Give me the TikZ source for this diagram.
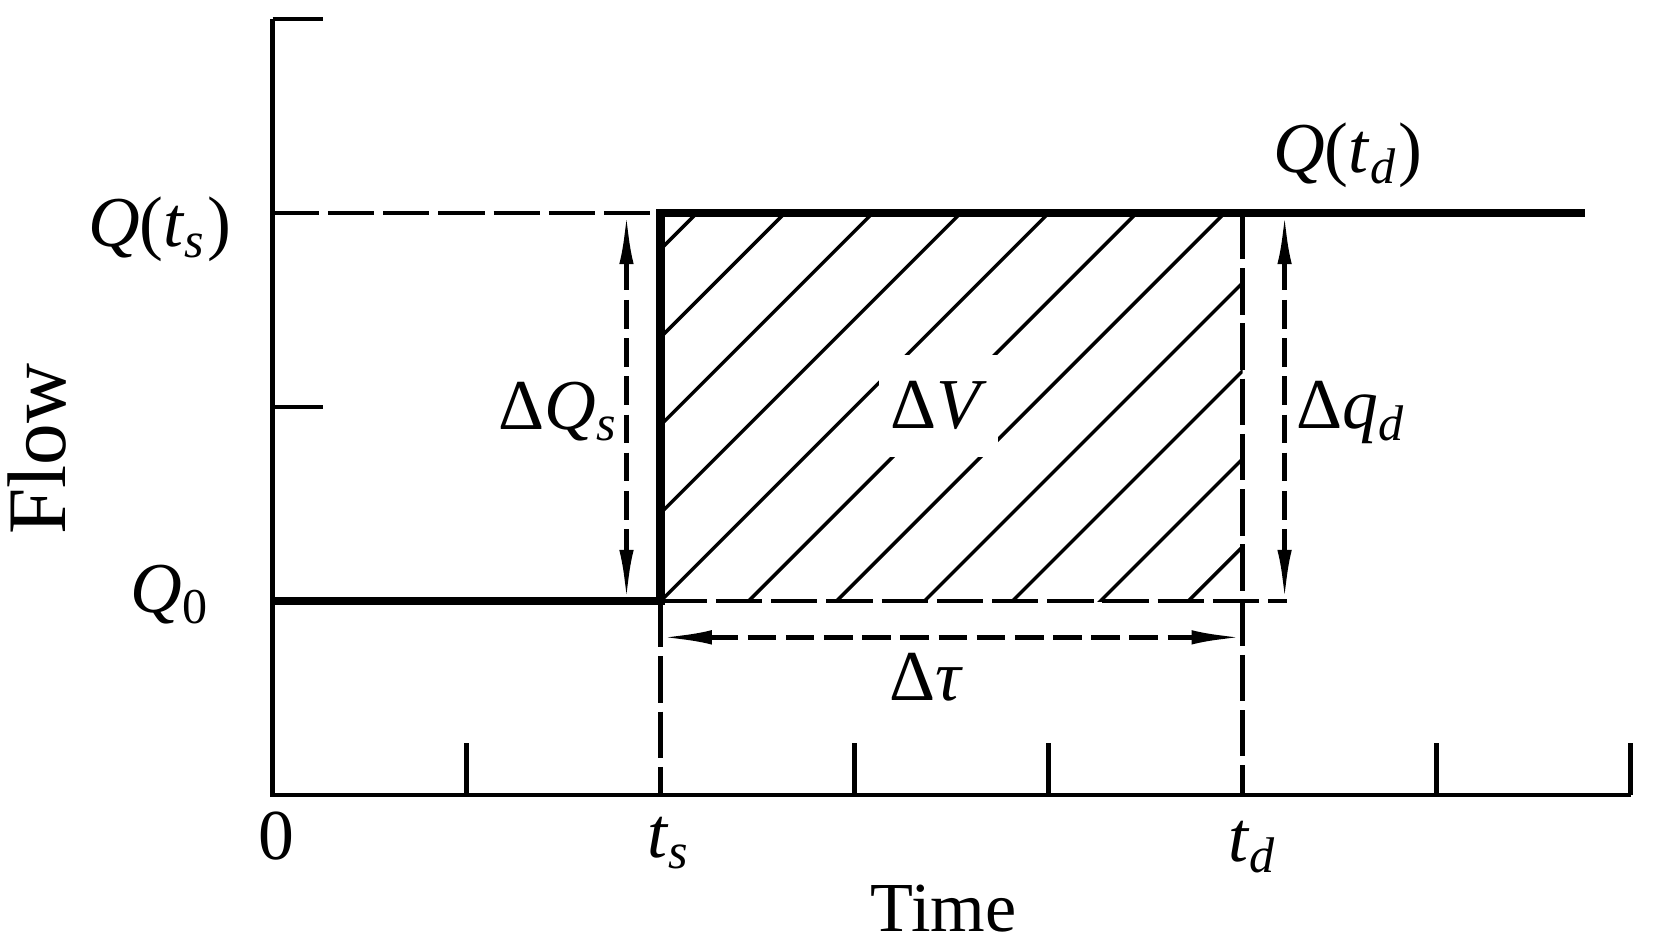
\documentclass[tikz,border=0pt]{standalone}
\usepackage{fontspec}
\setmainfont{Liberation Serif}
\usetikzlibrary{arrows.meta}
\newcommand\vi[1]{\textit{#1}}
\begin{document}
\begin{tikzpicture}[x=1cm,y=1cm,
  axisline/.style={line width=0.7pt},
  stepline/.style={line width=1.3pt},
  guide/.style={line width=0.7pt, dash pattern=on 6.8pt off 1.3pt},
  dimarrow/.style={line width=0.7pt, dash pattern=on 4.2pt off 1.4pt,
    {Latex[length=7.5pt,width=2.1pt]}-{Latex[length=7.5pt,width=2.1pt]}},
  hatchline/.style={line width=0.5pt},
  mathlbl/.style={inner sep=0pt, font=\fontsize{10.5}{12}\selectfont},
  plainlbl/.style={inner sep=0pt},
]
\useasboundingbox (-1.405,-0.789) rectangle (7.115,4.098);

% named points
\coordinate (O) at (0,0);
\coordinate (Xend) at (7,0);
\coordinate (Yend) at (0,4);
\coordinate (A) at (0,1);
\coordinate (S0) at (2,1);
\coordinate (S1) at (2,3);
\coordinate (E) at (6.765,3);
\coordinate (D1) at (5,3);
\coordinate (Ts) at (2,0);
\coordinate (Td) at (5,0);
\coordinate (Y3) at (0,3);
\coordinate (Qend) at (5.23,1);
\coordinate (qsT) at (1.824,3);
\coordinate (qsB) at (1.824,1);
\coordinate (qdT) at (5.216,3);
\coordinate (qdB) at (5.216,1);
\coordinate (tauL) at (2,0.813);
\coordinate (tauR) at (5,0.813);

% axes
\draw[axisline] (Yend) -- (O) -- (Xend);
\foreach \i in {1,3,4,6,7} \draw[axisline] (\i,0) -- (\i,0.27);
\foreach \j in {2,4} \draw[axisline] (0,\j) -- (0.26,\j);

% hatching
\begin{scope}
  \clip (2,1) rectangle (5,3);
  \foreach \k in {-4,...,6}
    \draw[hatchline] ({1+\k*0.4533+0.9},0.9) -- ({1+\k*0.4533+3.1},3.1);
\end{scope}
\node[mathlbl, fill=white, minimum width=0.615cm, minimum height=0.526cm] (dV) at (3.4325,2.007) {Δ\vi{V}};

% guides
\draw[guide] (Y3) -- (S1);
\draw[guide] (S0) -- (Qend);
\draw[guide] (S0) -- (Ts);
\draw[guide] (D1) -- (Td);

% step
\draw[stepline] (A) -- (S0) -- (S1) -- (E);

% dimension arrows
\draw[dimarrow] (qsT) -- (qsB);
\draw[dimarrow] (qdT) -- (qdB);
\draw[dimarrow] (tauL) -- (tauR);

% labels
\node[mathlbl, anchor=base east] (lQts) at (-0.204,2.83) {\vi{Q}(\vi{t}\textsubscript{\vi{s}})};
\node[mathlbl, anchor=base east] (lQ0) at (-0.31,0.94) {\vi{Q}\textsubscript{0}};
\node[mathlbl, anchor=base west] (lQtd) at (5.15,3.208) {\vi{Q}(\vi{t}\textsubscript{\vi{d}})};
\node[mathlbl, anchor=base] (l0) at (0.02,-0.33) {0};
\node[mathlbl, anchor=base west] (lts) at (1.925,-0.32) {\vi{t}\textsubscript{\vi{s}}};
\node[mathlbl, anchor=base west] (ltd) at (4.92,-0.34) {\vi{t}\textsubscript{\vi{d}}};
\node[mathlbl, anchor=base east] (lQs) at (1.795,1.885) {Δ\vi{Q}\textsubscript{\vi{s}}};
\node[mathlbl, anchor=base west] (lqd) at (5.27,1.887) {Δ\vi{q}\textsubscript{\vi{d}}};
\node[mathlbl, anchor=base] (ltau) at (3.37,0.486) {Δ\vi{τ}};
\node[plainlbl, font=\fontsize{10.3}{12}\selectfont, anchor=base] (time) at (3.459,-0.705) {Time};
\node[plainlbl, font=\fontsize{12.2}{14}\selectfont, rotate=90, anchor=base] (flow) at (-1.0665,1.784) {Flow};
\end{tikzpicture}
\end{document}
